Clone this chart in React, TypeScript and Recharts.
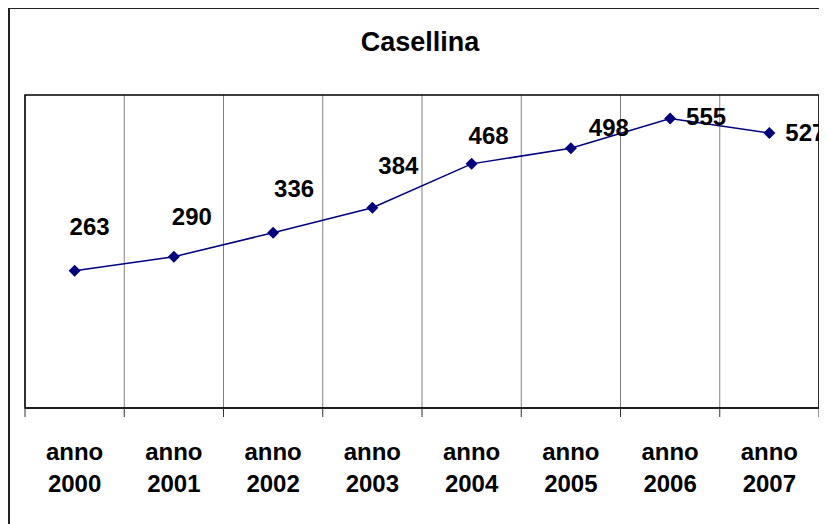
import React from "react";
import {
  LineChart,
  Line,
  XAxis,
  YAxis,
  CartesianGrid,
  ReferenceArea,
  LabelList,
} from "recharts";

const YEARS = ["2000", "2001", "2002", "2003", "2004", "2005", "2006", "2007"];
const VALUES = [263, 290, 336, 384, 468, 498, 555, 527];
const GRID_TICKS = [0, 1, 2, 3, 4, 5, 6, 7, 8];

// label nudges relative to each point (Excel placed them by hand)
const LABEL_OFFSETS = [
  [15, -44],
  [18, -40],
  [21, -44],
  [26, -42],
  [17, -28],
  [38, -20],
  [36, -1],
  [36, 0],
];

const FONT = "'Liberation Sans', Arial, sans-serif";

// pos = middle of each category slot, so grid lines fall between the points
const data = YEARS.map((year, i) => ({ year, pos: i + 0.5, value: VALUES[i] }));

const Diamond = (props: any) => {
  const { cx, cy } = props;
  if (cx == null || cy == null) return null;
  const r = 6;
  return (
    <path
      d={`M${cx},${cy - r}L${cx + r},${cy}L${cx},${cy + r}L${cx - r},${cy}Z`}
      fill="#000080"
    />
  );
};

const EmptyTick = () => <g />;

const YearTick = (props: any) => {
  const { x, y, payload } = props;
  return (
    <g>
      <text x={x} y={y} dy={42} textAnchor="middle" fontFamily={FONT} fontWeight="bold" fontSize={24} fill="#000">
        anno
      </text>
      <text x={x} y={y} dy={74} textAnchor="middle" fontFamily={FONT} fontWeight="bold" fontSize={24} fill="#000">
        {payload.value}
      </text>
    </g>
  );
};

const ValueLabel = (props: any) => {
  const { x, y, value, index } = props;
  const [dx, dy] = LABEL_OFFSETS[index] || [0, -20];
  return (
    <text
      x={x + dx}
      y={y + dy}
      dy={8}
      textAnchor="middle"
      fontFamily={FONT}
      fontWeight="bold"
      fontSize={24}
      fill="#000"
    >
      {value}
    </text>
  );
};

export default function App() {
  return (
    <div style={{ position: "relative", width: 819, height: 516 }}>
      <div
        style={{
          position: "absolute",
          left: 0,
          top: -1,
          width: 819,
          height: 517,
          borderLeft: "2px solid #222",
          borderTop: "2px solid #222",
          boxSizing: "border-box",
        }}
      />
      <div
        style={{
          position: "absolute",
          left: 0,
          top: 21,
          width: 824,
          textAlign: "center",
          fontFamily: FONT,
          fontWeight: "bold",
          fontSize: 27,
          lineHeight: "27px",
        }}
      >
        Casellina
      </div>
      <div style={{ position: "absolute", left: 0, top: 0 }}>
        <LineChart
          width={819}
          height={516}
          data={data}
          margin={{ top: 87, right: 8, left: 17, bottom: 16 }}
        >
          <CartesianGrid
            xAxisId={0}
            horizontal={false}
            stroke="#808080"
            strokeWidth={1}
          />
          <XAxis
            xAxisId={0}
            dataKey="pos"
            type="number"
            domain={[0, 8]}
            allowDataOverflow
            ticks={GRID_TICKS}
            interval={0}
            tick={<EmptyTick />}
            tickSize={9}
            tickMargin={0}
            height={10}
            axisLine={{ stroke: "#000" }}
            tickLine={{ stroke: "#333" }}
          />
          <XAxis
            xAxisId={1}
            dataKey="year"
            scale="band"
            axisLine={false}
            tickLine={false}
            tickSize={0}
            tickMargin={0}
            height={90}
            interval={0}
            tick={<YearTick />}
          />
          <YAxis hide domain={[0, 600]} />
          <ReferenceArea
            xAxisId={0}
            x1={0}
            x2={8}
            y1={0}
            y2={600}
            fill="none"
            stroke="#000"
            strokeWidth={1.5}
          />
          <Line
            xAxisId={0}
            dataKey="value"
            stroke="#000080"
            strokeWidth={1.5}
            dot={<Diamond />}
            activeDot={false}
            isAnimationActive={false}
          >
            <LabelList dataKey="value" content={<ValueLabel />} />
          </Line>
        </LineChart>
      </div>
    </div>
  );
}
